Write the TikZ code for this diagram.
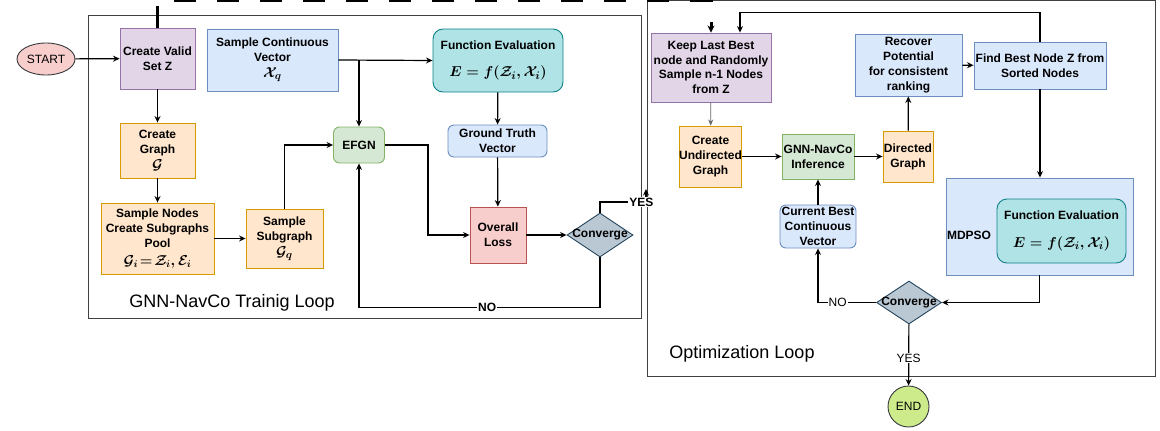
\documentclass[tikz,border=0pt]{standalone}
\usepackage{fontspec}
\newfontfamily\arialf{Liberation Sans}
\usetikzlibrary{arrows.meta,shapes.geometric,calc}
\definecolor{purpF}{HTML}{E1D5E7}\definecolor{purpD}{HTML}{9673A6}
\definecolor{blueF}{HTML}{DAE8FC}\definecolor{blueD}{HTML}{6C8EBF}
\definecolor{tealF}{HTML}{B0E3E6}\definecolor{tealD}{HTML}{0E8088}
\definecolor{orF}{HTML}{FFE6CC}\definecolor{orD}{HTML}{D79B00}
\definecolor{grF}{HTML}{D5E8D4}\definecolor{grD}{HTML}{82B366}
\definecolor{redF}{HTML}{F8CECC}\definecolor{redD}{HTML}{B85450}
\definecolor{gyF}{HTML}{BAC8D3}\definecolor{gyD}{HTML}{23445D}
\definecolor{endF}{HTML}{CDEB8B}\definecolor{endD}{HTML}{36393D}
\newcommand{\mymath}[2][15]{{\fontsize{#1}{#1}\selectfont\boldmath$#2$}}
\tikzset{
  boxfont/.style={font=\arialf\bfseries\fontsize{12}{14.8}\selectfont},
  box/.style={draw, line width=0.9pt, align=center, inner sep=0pt, boxfont},
  pbox/.style={box, fill=purpF, draw=purpD},
  bbox/.style={box, fill=blueF, draw=blueD},
  tbox/.style={box, fill=tealF, draw=tealD, rounded corners=10pt},
  obox/.style={box, fill=orF, draw=orD},
  gbox/.style={box, fill=grF, draw=grD, rounded corners=6pt},
  rbox/.style={box, fill=redF, draw=redD},
  dbox/.style={draw=gyD, fill=gyF, line width=0.9pt, shape=diamond, inner sep=0pt},
  conn/.style={line width=1.2pt, -{Stealth[length=6.5pt,width=6pt]}},
  elbl/.style={fill=white, inner sep=1pt, font=\arialf\fontsize{12}{14}\selectfont},
  elblb/.style={elbl, font=\arialf\bfseries\fontsize{12}{14}\selectfont},
  cont/.style={draw=black!75, line width=1pt},
  contlbl/.style={font=\arialf\fontsize{18}{20}\selectfont}
}
\begin{document}
\begin{tikzpicture}[x=1pt,y=-1pt]
\useasboundingbox (0,0) rectangle (1160,431);
% containers
\draw[cont] (88,15) rectangle (641,318);
\draw[cont] (647,0.5) rectangle (1155,376);
\node[contlbl] (lbl1) at (232,303) {GNN-NavCo Trainig Loop};
\node[contlbl] (lbl2) at (742,354) {Optimization Loop};

% left nodes
\node[draw=endD, fill=redF, line width=0.9pt, ellipse, minimum width=58, minimum height=32, inner sep=0pt, font=\arialf\fontsize{12}{14}\selectfont] (start) at (46,59) {START};
\node[pbox, minimum width=75, minimum height=61] (cvz) at (157.5,58.5) {Create Valid\\Set Z};
\node[bbox, minimum width=131, minimum height=62] (scv) at (272.5,60) {Sample Continuous\\Vector\\[1pt]\mymath{\mathcal{X}_q}};
\node[tbox, minimum width=130, minimum height=63] (fe1) at (498,60.5) {Function Evaluation\\[13pt]\mymath[15]{E=f(\mathcal{Z}_i,\mathcal{X}_i)}};
\node[obox, minimum width=75, minimum height=55] (cg) at (157.5,150.5) {Create\\Graph\\[1pt]\mymath{\mathcal{G}}};
\node[obox, minimum width=113, minimum height=71] (sn) at (157.5,238.5) {Sample Nodes\\Create Subgraphs\\Pool\\[3pt]\mymath[14]{\mathcal{G}_i\!=\!\mathcal{Z}_i,\mathcal{E}_i}};
\node[obox, minimum width=77, minimum height=59] (ss) at (284.5,238.5) {Sample\\Subgraph\\[1pt]\mymath{\mathcal{G}_q}};
\node[gbox, minimum width=51, minimum height=36] (efgn) at (359,145) {EFGN};
\node[bbox, rounded corners=6pt, minimum width=99, minimum height=32] (gt) at (497.5,141) {Ground Truth\\Vector};
\node[rbox, minimum width=56, minimum height=56] (ol) at (498,235) {Overall\\Loss};
\node[dbox, minimum width=66, minimum height=44, label={[boxfont]center:Converge}] (cv1) at (600,235) {};

% right nodes
\node[pbox, minimum width=120, minimum height=69] (keep) at (711,67.5) {Keep Last Best\\node and Randomly\\Sample n-1 Nodes\\from Z};
\node[obox, minimum width=61, minimum height=61] (cug) at (710.5,156.5) {Create\\Undirected\\Graph};
\node[gbox, rounded corners=0pt, minimum width=72, minimum height=45] (gnn) at (818,156.5) {GNN-NavCo\\Inference};
\node[obox, minimum width=50, minimum height=51] (dg) at (908,156.5) {Directed\\Graph};
\node[bbox, minimum width=107, minimum height=62] (rp) at (908.5,65) {Recover\\Potential\\for consistent\\ranking};
\node[bbox, minimum width=132, minimum height=47] (fb) at (1040,65.5) {Find Best Node Z from\\Sorted Nodes};
\node[bbox, minimum width=187, minimum height=97] (mdpso) at (1039.5,226.5) {};
\node[boxfont] (mdpsolbl) at (969,235) {MDPSO};
\node[tbox, minimum width=129, minimum height=64] (fe2) at (1061.5,231) {Function Evaluation\\[13pt]\mymath[15]{E=f(\mathcal{Z}_i,\mathcal{X}_i)}};
\node[bbox, rounded corners=6pt, minimum width=76, minimum height=43] (cb) at (818,226.5) {Current Best\\Continuous\\Vector};
\node[dbox, minimum width=65, minimum height=43, label={[boxfont]center:Converge}] (cv2) at (909,302.5) {};
\node[draw=endD, fill=endF, line width=0.9pt, circle, minimum size=41, inner sep=0pt, font=\arialf\fontsize{12}{14}\selectfont] (end) at (908.5,406.5) {END};

% left connectors
\draw[conn] (start) -- (cvz);
\draw[conn] (cvz) -- (cg);
\draw[conn] (cg) -- (sn);
\draw[conn] (sn) -- (ss);
\draw[conn] (ss.north) |- (efgn.west);
\draw[conn] (scv.east) -- (fe1.west);
\draw[conn] (efgn.north |- scv.east) -- (efgn.north);
\draw[conn] (fe1) -- (gt);
\draw[conn] (gt) -- (ol);
\draw[conn] (efgn.east) -- ++(43,0) |- (ol.west);
\draw[conn] (ol) -- (cv1);
\draw[conn] (cv1.south) -- ++(0,50) -| node[elblb, pos=0.234] {NO} (efgn.south);
\coordinate (yesbend) at (646,202);
\coordinate (yesend) at (646,189);
\draw[conn] (cv1.north) |- node[elblb, pos=0.95] {YES} (yesbend) -- (yesend);
% top dashed link
\draw[line width=3pt, dash pattern=on 22pt off 21pt, -{Stealth[length=7pt,width=7pt]}] (cvz.north) -- ++(0,-27) -| (keep.north);

% right connectors
\draw[line width=0.8pt, draw=black!60, -{Stealth[length=6pt,width=5pt]}] (keep) -- (cug);
\draw[conn] (cug) -- (gnn);
\draw[conn] (gnn) -- (dg);
\draw[conn] (dg) -- (rp);
\draw[conn] (rp) -- (fb);
\draw[conn] (fb.north) -- ++(0,-29) -| ([xshift=29pt]keep.north);
\draw[conn] (fb.south) -- (fb.south |- mdpso.north);
\draw[conn] (mdpso.south) |- (cv2.east);
\draw[conn] (cv2.west) -| node[elbl, pos=0.33] {NO} (cb.south);
\draw[conn] (cb) -- (gnn);
\draw[conn] (cv2) -- node[elbl, pos=0.55] {YES} (end);
\end{tikzpicture}
\end{document}
